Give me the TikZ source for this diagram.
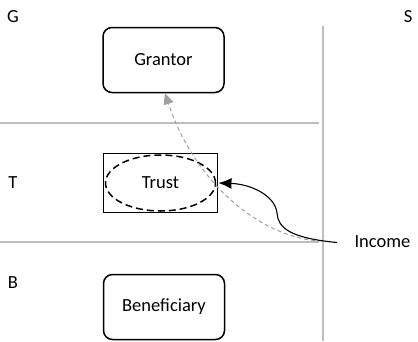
\documentclass[tikz,border=0pt]{standalone}
\usepackage{fontspec}
\setmainfont{Carlito}
\usetikzlibrary{arrows.meta}
\definecolor{divider}{RGB}{190,190,190}
\definecolor{flowgray}{RGB}{160,160,160}
\tikzset{
  txt/.style={font=\fontsize{18.5}{22}\selectfont},
  party/.style={txt, draw=black, line width=1.5pt, rounded corners=9pt, minimum width=121pt, minimum height=65pt},
  lane/.style={txt, anchor=center},
  sep/.style={draw=divider, line width=1.1pt},
}
\begin{document}
\begin{tikzpicture}[x=1pt, y=-1pt]
  \useasboundingbox (0,0) rectangle (418,341);

  % lane dividers
  \draw[sep] (0,123) -- (319,123);
  \draw[sep] (0,242) -- (319,242);
  \draw[sep] (323,26) -- (323,341);

  % lane labels
  \node[lane] (lg) at (13,17) {G};
  \node[lane] (ls) at (408,17) {S};
  \node[lane] (lt) at (13,183) {T};
  \node[lane] (lb) at (13,283) {B};

  % parties
  \node[party] (grantor) at (163.5,60) {Grantor};
  \node[party] (benef) at (164,307) {Beneficiary};
  \node[txt, draw=black, line width=1.9pt, minimum width=114pt, minimum height=59pt] (trust) at (160.5,183) {Trust};
  \draw[black, line width=1.5pt, dash pattern=on 7pt off 4pt]
    (trust.center) ellipse [x radius=55pt, y radius=28pt];

  % income source
  \node[lane, anchor=west] (income) at (351,242) {Income};
  \coordinate (src) at (337,242.5);
  \coordinate (srcg) at (322,241);

  % income flows
  \draw[flowgray, line width=1pt, dash pattern=on 4pt off 3pt,
        -{Triangle[length=11pt, width=10pt, fill=flowgray]}]
    (srcg) .. controls (270,240) and (198,192) .. (grantor.south -| 165,0);
  \draw[black, line width=1.1pt, -{Latex[length=13pt, width=11pt]}]
    (src) .. controls (290,238) and (278,228) .. (277,213)
          .. controls (275,195) and (250,184) .. (trust.east);
\end{tikzpicture}
\end{document}
